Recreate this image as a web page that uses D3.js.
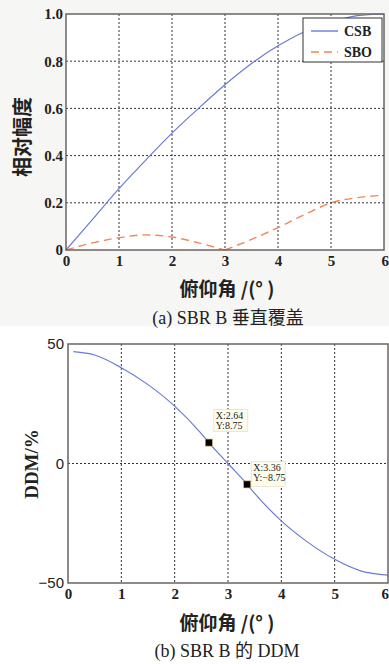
<!DOCTYPE html>
<html><head><meta charset="utf-8">
<script src="https://cdn.jsdelivr.net/npm/d3@7"></script>
<style>
html,body{margin:0;padding:0;background:#fff;}
svg{display:block;}
</style></head>
<body>
<svg id="c" width="389" height="664"></svg>
<script>
// ---- data ----
const angles = [0,0.5,1,1.5,2,2.5,3,3.5,4,4.5,5,5.5,6];
const csb = [0,0.13,0.26,0.38,0.495,0.6,0.7,0.79,0.865,0.925,0.965,0.993,1.0];
const sbo = [0,0.03,0.052,0.064,0.055,0.03,0,0.045,0.095,0.15,0.2,0.222,0.232];
const ddmAngles = [0.1,0.5,1,1.5,2,2.5,2.64,3,3.36,3.5,4,4.5,5,5.5,6];
const ddm = [46.8,45.4,40.1,33,24,12.5,8.75,0,-8.75,-12.5,-24,-33,-40.1,-45,-46.7];
const tips = [{x:2.64,y:8.75,lx:"X:2.64",ly:"Y:8.75"},{x:3.36,y:-8.75,lx:"X:3.36",ly:"Y:\u22128.75"}];
const xTicks = [0,1,2,3,4,5,6];
const yTicksA = [0,0.2,0.4,0.6,0.8,1.0];
const yTicksB = [-50,0,50];
const legendItems = [{name:"CSB",color:"#6a7bd3",dash:null},{name:"SBO",color:"#f0875a",dash:"8,5"}];

const svg = d3.select("#c");
const serif = "'Liberation Serif','DejaVu Serif',serif";
const cjk = "'Noto Sans CJK SC',sans-serif";
const mixed = "'Liberation Serif','Noto Sans CJK SC',serif";

svg.append("rect").attr("x",0).attr("y",0).attr("width",389).attr("height",326).attr("fill","#f6f6f4");

function panel(opt){
  const x = d3.scaleLinear().domain([0,6]).range([opt.left,opt.right]);
  const y = d3.scaleLinear().domain(opt.ydom).range([opt.bottom,opt.top]);
  const g = svg.append("g");
  g.append("rect").attr("x",opt.left).attr("y",opt.top).attr("width",opt.right-opt.left).attr("height",opt.bottom-opt.top).attr("fill","#fff");
  g.selectAll(".vg").data(xTicks.filter(d=>d>0&&d<6)).join("line")
    .attr("x1",d=>x(d)).attr("x2",d=>x(d)).attr("y1",opt.top).attr("y2",opt.bottom)
    .attr("stroke","#333").attr("stroke-width",1).attr("stroke-dasharray","2,2");
  g.selectAll(".hg").data(opt.hgrid).join("line")
    .attr("y1",d=>y(d)).attr("y2",d=>y(d)).attr("x1",opt.left).attr("x2",opt.right)
    .attr("stroke","#333").attr("stroke-width",1).attr("stroke-dasharray","2,2");
  const xa = g.append("g").attr("transform",`translate(0,${opt.bottom})`)
    .call(d3.axisBottom(x).tickValues(xTicks).tickSize(0).tickPadding(5).tickFormat(d3.format("d")));
  xa.select(".domain").remove();
  xa.selectAll("text").attr("font-family",serif).attr("font-weight","bold").attr("font-size",15).attr("fill","#222");
  // keep the last label inside the page
  xa.selectAll("text").filter(d=>d===6).attr("text-anchor","end").attr("dx", 389-opt.right-0.5);
  const ya = g.append("g").attr("transform",`translate(${opt.left},0)`)
    .call(d3.axisLeft(y).tickValues(opt.yticks).tickSize(0).tickPadding(opt.ypad).tickFormat(opt.yfmt));
  ya.select(".domain").remove();
  ya.selectAll("text").attr("font-family",opt.yfont).attr("font-weight",opt.yweight).attr("font-size",15).attr("fill","#222");
  return {x,y,g};
}

// ---- panel a ----
const A = panel({left:66,right:384,top:14,bottom:250,ydom:[0,1],hgrid:[0.2,0.4,0.6,0.8],yticks:yTicksA,ypad:3,
  yfmt:d=>d===0?"0":d3.format(".1f")(d), yfont:serif, yweight:"bold"});
const lineA = d3.line().x((d,i)=>A.x(angles[i])).y(d=>A.y(d)).curve(d3.curveMonotoneX);
A.g.append("path").attr("d",lineA(csb)).attr("fill","none").attr("stroke",legendItems[0].color).attr("stroke-width",1.2);
const lineS = d3.line().x((d,i)=>A.x(angles[i])).y(d=>A.y(d)).curve(d3.curveMonotoneX);
A.g.append("path").attr("d",lineS(sbo.slice(0,7))).attr("fill","none").attr("stroke",legendItems[1].color).attr("stroke-width",1.4).attr("stroke-dasharray","8,5");
const lineS2 = d3.line().x((d,i)=>A.x(angles[i+6])).y(d=>A.y(d)).curve(d3.curveMonotoneX);
A.g.append("path").attr("d",lineS2(sbo.slice(6))).attr("fill","none").attr("stroke",legendItems[1].color).attr("stroke-width",1.4).attr("stroke-dasharray","8,5");
A.g.append("rect").attr("x",66).attr("y",14).attr("width",318).attr("height",236).attr("fill","none").attr("stroke","#6b6460").attr("stroke-width",1.5);
// legend
const lg = svg.append("g");
lg.append("rect").attr("x",303).attr("y",18).attr("width",79).attr("height",44).attr("fill","#fff").attr("stroke","#333").attr("stroke-width",1);
legendItems.forEach((it,i)=>{
  const yy = 31 + i*21;
  lg.append("line").attr("x1",311).attr("x2",338).attr("y1",yy).attr("y2",yy).attr("stroke",it.color).attr("stroke-width",1.4).attr("stroke-dasharray",it.dash);
  lg.append("text").attr("x",344).attr("y",yy+5).text(it.name).attr("font-family",serif).attr("font-weight","bold").attr("font-size",14).attr("fill","#222");
});
svg.append("text").attr("transform","translate(30,137) rotate(-90)").attr("text-anchor","middle").text("相对幅度")
  .attr("font-family",cjk).attr("font-size",20).attr("font-weight","bold").attr("fill","#222");
svg.append("text").attr("x",227).attr("y",296).attr("text-anchor","middle").text("俯仰角 /(°  )")
  .attr("font-family",cjk).attr("font-size",19).attr("font-weight","bold").attr("fill","#222");
svg.append("text").attr("x",228).attr("y",324).attr("text-anchor","middle").text("(a)  SBR B 垂直覆盖")
  .attr("font-family",mixed).attr("font-size",18).attr("fill","#222");

// ---- panel b ----
const B = panel({left:68,right:388,top:344,bottom:583,ydom:[-50,50],hgrid:[0],yticks:yTicksB,ypad:4,
  yfmt:d=>d<0?"\u2212"+Math.abs(d):String(d), yfont:"'Liberation Sans',sans-serif", yweight:"normal"});
const lineD = d3.line().x((d,i)=>B.x(ddmAngles[i])).y(d=>B.y(d)).curve(d3.curveMonotoneX);
B.g.append("path").attr("d",lineD(ddm)).attr("fill","none").attr("stroke","#6a7bd3").attr("stroke-width",1.2);
B.g.append("rect").attr("x",68).attr("y",344).attr("width",320).attr("height",239).attr("fill","none").attr("stroke","#6b6460").attr("stroke-width",1.5);
// data tips
const tipOff = [{dx:5,dy:-33,h:22},{dx:4,dy:-23,h:25}];
tips.forEach((t,i)=>{
  const px = B.x(t.x), py = B.y(t.y);
  const bx = px+tipOff[i].dx, by = py+tipOff[i].dy;
  svg.append("rect").attr("x",bx).attr("y",by).attr("width",34).attr("height",tipOff[i].h).attr("fill","#fffcec").attr("stroke","#e8e2c8").attr("stroke-width",0.8);
  svg.append("text").attr("x",bx+2).attr("y",by+9.5).text(t.lx).attr("font-family",serif).attr("font-size",10).attr("fill","#222");
  svg.append("text").attr("x",bx+2).attr("y",by+19.5).text(t.ly).attr("font-family",serif).attr("font-size",10).attr("fill","#222");
  svg.append("rect").attr("x",px-3.5).attr("y",py-3.5).attr("width",7).attr("height",7).attr("fill","#000").attr("stroke","#c9a85a").attr("stroke-width",0.6);
});
svg.append("text").attr("transform","translate(38,464) rotate(-90)").attr("text-anchor","middle").text("DDM/%")
  .attr("font-family",serif).attr("font-size",19).attr("font-weight","bold").attr("fill","#222");
svg.append("text").attr("x",227).attr("y",630).attr("text-anchor","middle").text("俯仰角 /(°  )")
  .attr("font-family",cjk).attr("font-size",19).attr("font-weight","bold").attr("fill","#222");
svg.append("text").attr("x",227).attr("y",657).attr("text-anchor","middle").text("(b)  SBR B 的 DDM")
  .attr("font-family",mixed).attr("font-size",18).attr("fill","#222");
</script>
</body></html>
